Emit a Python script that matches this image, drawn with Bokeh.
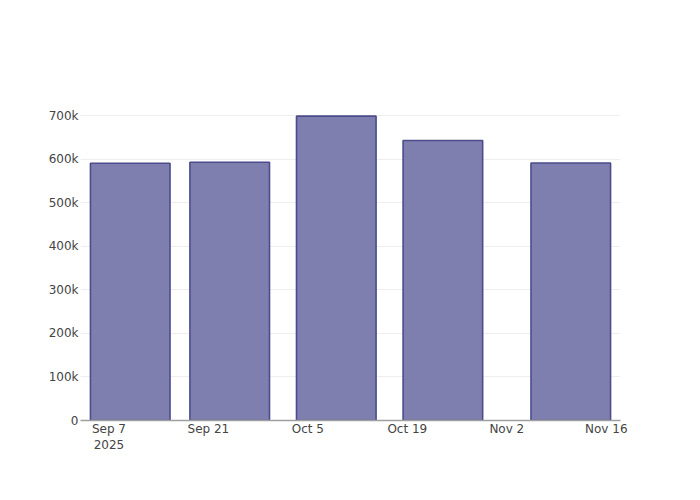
from datetime import datetime
from bokeh.plotting import figure
from bokeh.models import ColumnDataSource, Range1d, FixedTicker
from bokeh.embed import file_html
from bokeh.resources import INLINE

# ---- data ----
bar_dates = ["2025-09-10", "2025-09-24", "2025-10-09", "2025-10-24", "2025-11-11"]
bar_values = [591000, 593000, 699000, 643000, 591500]

x_tick_dates = ["2025-09-07", "2025-09-21", "2025-10-05", "2025-10-19", "2025-11-02", "2025-11-16"]
x_tick_labels = ["Sep 7\n2025", "Sep 21", "Oct 5", "Oct 19", "Nov 2", "Nov 16"]

y_tick_values = [0, 100000, 200000, 300000, 400000, 500000, 600000, 700000]
y_tick_labels = ["0", "100k", "200k", "300k", "400k", "500k", "600k", "700k"]

EPOCH = datetime(1970, 1, 1)


def to_ms(s):
    d = datetime.strptime(s, "%Y-%m-%d")
    return (d - EPOCH).total_seconds() * 1000.0


x_vals = [to_ms(d) for d in bar_dates]
x_ticks = [to_ms(d) for d in x_tick_dates]
day_ms = 86400000.0
bar_width = 0.8 * 14 * day_ms

source = ColumnDataSource(data=dict(x=x_vals, top=bar_values))

p = figure(
    width=684, height=484,
    x_axis_type="datetime",
    x_range=Range1d(to_ms("2025-09-03"), to_ms("2025-11-18")),
    y_range=Range1d(0, 735000),
    output_backend="svg",
    toolbar_location=None,
    min_border_left=80, min_border_right=64,
    min_border_top=100, min_border_bottom=64,
)
p.outline_line_color = None
p.background_fill_color = "white"
p.border_fill_color = "white"

p.vbar(x="x", top="top", width=bar_width, bottom=0, source=source,
       fill_color="#7f7faf", fill_alpha=1.0,
       line_color="#4c4c8c", line_width=1.6)

# x axis
xa = p.xaxis[0]
xa.ticker = FixedTicker(ticks=x_ticks)
xa.major_label_overrides = {t: l for t, l in zip(x_ticks, x_tick_labels)}
xa.axis_line_color = "#a0a0a0"
xa.axis_line_width = 1.5
xa.major_tick_line_color = None
xa.minor_tick_line_color = None
xa.major_tick_out = 0
xa.major_tick_in = 0
xa.minor_tick_out = 0
xa.minor_tick_in = 0
xa.major_label_standoff = 1
xa.major_label_text_font = "DejaVu Sans"
xa.major_label_text_font_size = "12px"
xa.major_label_text_color = "#444444"

# y axis
ya = p.yaxis[0]
ya.ticker = FixedTicker(ticks=y_tick_values)
ya.major_label_overrides = {v: l for v, l in zip(y_tick_values, y_tick_labels)}
ya.axis_line_color = None
ya.major_tick_line_color = None
ya.minor_tick_line_color = None
ya.major_tick_out = 0
ya.major_tick_in = 0
ya.minor_tick_out = 0
ya.minor_tick_in = 0
ya.major_label_standoff = 2
ya.major_label_text_font = "DejaVu Sans"
ya.major_label_text_font_size = "12px"
ya.major_label_text_color = "#444444"

p.xgrid.grid_line_color = None
p.ygrid.grid_line_color = "#eeeeee"
p.ygrid.grid_line_width = 1

open("out.html", "w").write(file_html(p, INLINE))
